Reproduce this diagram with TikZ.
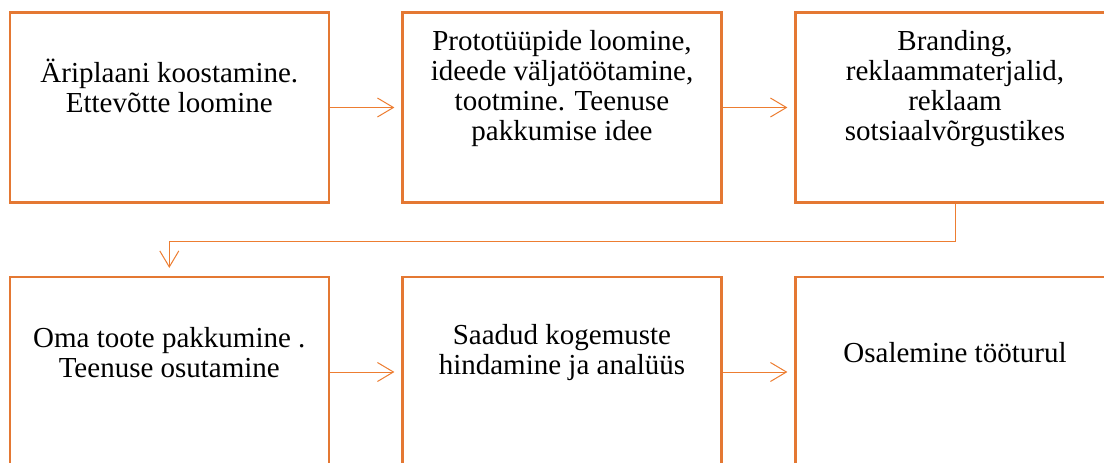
\documentclass[tikz,border=0pt]{standalone}
\usepackage{fontspec}
\setmainfont{Liberation Serif}
\usetikzlibrary{arrows.meta}
\definecolor{boxorange}{HTML}{E47833}
\definecolor{lineorange}{HTML}{ED7D31}
\tikzset{
  stepbox/.style={draw=boxorange, line width=2.2pt, rectangle, inner sep=0pt,
    minimum width=319pt, minimum height=190pt},
  boxtext/.style={align=center, font=\fontsize{29}{30}\selectfont, inner sep=0pt, text=black},
  flow/.style={draw=lineorange, line width=1pt,
    -{Straight Barb[length=16pt,width=19pt,line width=1pt]}, shorten >=7pt},
}
\begin{document}
\begin{tikzpicture}[x=1pt,y=-1pt]
\useasboundingbox (0,0) rectangle (1104,463);
\clip (0,0) rectangle (1104,463);
\fill[white] (0,0) rectangle (1104,463);
% boxes
\node[stepbox] (b1) at (169.3,107.5) {};
\node[stepbox] (b2) at (562,107.5) {};
\node[stepbox] (b3) at (955,107.5) {};
\node[stepbox] (b4) at (169.3,372) {};
\node[stepbox] (b5) at (562,372) {};
\node[stepbox] (b6) at (955,372) {};
% texts
\node[boxtext] (t1) at (169.3,86) {Äriplaani koostamine.\\Ettevõtte loomine};
\node[boxtext] (t2) at (562,89) {Prototüüpide loomine,\\ideede väljatöötamine,\\tootmine. Teenuse\\pakkumise idee};
\node[boxtext] (t3) at (955,89) {Branding,\\reklaammaterjalid,\\reklaam\\sotsiaalvõrgustikes};
\node[boxtext] (t4) at (169.3,353) {Oma toote pakkumine .\\Teenuse osutamine};
\node[boxtext] (t5) at (562,353) {Saadud kogemuste\\hindamine ja analüüs};
\node[boxtext] (t6) at (955,353) {Osalemine tööturul};
% connectors
\draw[flow] (b1.east) -- (b2.west);
\draw[flow] (b2.east) -- (b3.west);
\draw[flow, shorten >=8pt] (b3.south) -- ++(0,37.5) -| (b4.north);
\draw[flow] (b4.east) -- (b5.west);
\draw[flow] (b5.east) -- (b6.west);
\end{tikzpicture}
\end{document}
